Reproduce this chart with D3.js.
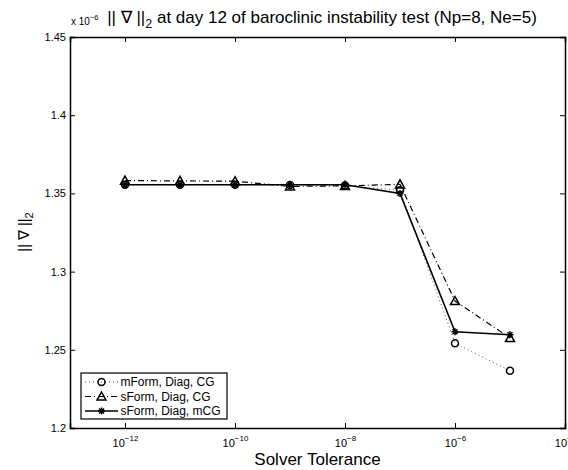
<!DOCTYPE html>
<html>
<head>
<meta charset="utf-8">
<script src="https://cdn.jsdelivr.net/npm/d3@7"></script>
<style>
  body { margin: 0; background: #fff; }
  svg text { font-family: "Liberation Sans", Arial, Helvetica, sans-serif; fill: #000; }
</style>
</head>
<body>
<div id="myplot"></div>
<script>
// --- Data ---
const tolerances = [1e-12, 1e-11, 1e-10, 1e-9, 1e-8, 1e-7, 1e-6, 1e-5];
const mFormDiagCG = [1.3555, 1.3555, 1.3555, 1.3553, 1.3550, 1.3520, 1.2542, 1.2366];
const sFormDiagCG = [1.3582, 1.3580, 1.3578, 1.3545, 1.3548, 1.3558, 1.2812, 1.2576];
const sFormDiagMCG = [1.3555, 1.3555, 1.3555, 1.3555, 1.3555, 1.3500, 1.2615, 1.2596];
const seriesNames = ["mForm, Diag, CG", "sForm, Diag, CG", "sForm, Diag, mCG"];
const xTickExps = [-12, -10, -8, -6, -4];
const yTicks = [1.2, 1.25, 1.3, 1.35, 1.4, 1.45];

const width = 568, height = 470;
const margin = { top: 37, right: 3, bottom: 42, left: 70 };

const svg = d3.select("#myplot").append("svg")
  .attr("width", width).attr("height", height);

const x = d3.scaleLog().domain([1e-13, 1e-4]).range([margin.left, width - margin.right]);
const y = d3.scaleLinear().domain([1.2, 1.45]).range([height - margin.bottom, margin.top]);

const series = [
  { name: seriesNames[0], values: mFormDiagCG, dash: "1,3", width: 1, marker: "circle", color: "#555" },
  { name: seriesNames[1], values: sFormDiagCG, dash: "6,3,1,3", width: 1.2, marker: "triangle", color: "#000" },
  { name: seriesNames[2], values: sFormDiagMCG, dash: null, width: 1.6, marker: "star", color: "#000" },
];

// --- Axes (Matlab-style: inward ticks on all four sides) ---
const xVals = xTickExps.map((e) => Math.pow(10, e));
const fontSize = 11;

const xAxis = svg.append("g")
  .attr("transform", `translate(0,${y(1.2)})`)
  .call(d3.axisBottom(x).tickValues(xVals).tickSize(-5).tickFormat(""));
xAxis.selectAll(".tick").append("text")
  .attr("y", 18.5)
  .attr("text-anchor", "middle")
  .attr("font-size", fontSize)
  .each(function (d) {
    const t = d3.select(this);
    t.append("tspan").text("10");
    t.append("tspan").attr("dy", -6).attr("font-size", 8).text("\u2212" + Math.round(-Math.log10(d)));
  });

svg.append("g")
  .attr("transform", `translate(0,${y(1.45)})`)
  .call(d3.axisTop(x).tickValues(xVals).tickSize(-5).tickFormat(""));

svg.append("g")
  .attr("transform", `translate(${x(1e-13)},0)`)
  .call(d3.axisLeft(y).tickValues(yTicks).tickSize(-5).tickPadding(4).tickFormat(d3.format("")))
  .selectAll("text").attr("font-size", fontSize);

svg.append("g")
  .attr("transform", `translate(${x(1e-4)},0)`)
  .call(d3.axisRight(y).tickValues(yTicks).tickSize(-5).tickFormat(""));

svg.selectAll(".domain").attr("stroke", "#000").attr("stroke-width", 1.5);
svg.selectAll(".tick line").attr("stroke", "#000").attr("stroke-width", 1);

// --- Lines ---
const line = d3.line().x((d) => x(d[0])).y((d) => y(d[1]));

function drawMarker(g, type, cx, cy) {
  if (type === "circle") {
    g.append("circle").attr("cx", cx).attr("cy", cy).attr("r", 3.5)
      .attr("fill", "none").attr("stroke", "#000").attr("stroke-width", 1.5);
  } else if (type === "triangle") {
    const s = 4.5;
    g.append("path")
      .attr("d", `M${cx},${cy - s}L${cx + s},${cy + s * 0.8}L${cx - s},${cy + s * 0.8}Z`)
      .attr("fill", "none").attr("stroke", "#000").attr("stroke-width", 1.5);
  } else {
    const s = 3.5;
    const d = [0, 45, 90, 135].map((a) => {
      const r = (a * Math.PI) / 180;
      return `M${cx - s * Math.cos(r)},${cy - s * Math.sin(r)}L${cx + s * Math.cos(r)},${cy + s * Math.sin(r)}`;
    }).join("");
    g.append("path").attr("d", d).attr("stroke", "#000").attr("stroke-width", 1.5);
    g.append("circle").attr("cx", cx).attr("cy", cy).attr("r", 2).attr("fill", "#000");
  }
}

series.forEach((s) => {
  const pts = tolerances.map((t, i) => [t, s.values[i]]);
  svg.append("path")
    .datum(pts)
    .attr("d", line)
    .attr("fill", "none")
    .attr("stroke", s.color)
    .attr("stroke-width", s.width)
    .attr("stroke-dasharray", s.dash);
  const g = svg.append("g");
  pts.forEach((p) => drawMarker(g, s.marker, x(p[0]), y(p[1])));
});

// --- Legend ---
const legend = svg.append("g");
legend.append("rect")
  .attr("x", 81).attr("y", 373).attr("width", 146).attr("height", 46)
  .attr("fill", "#fff").attr("stroke", "#000").attr("stroke-width", 1.2);
series.forEach((s, i) => {
  const ly = 382 + i * 14.5;
  legend.append("line")
    .attr("x1", 85).attr("x2", 118).attr("y1", ly).attr("y2", ly)
    .attr("stroke", s.color).attr("stroke-width", s.width).attr("stroke-dasharray", s.dash);
  drawMarker(legend, s.marker, 101.5, ly);
  legend.append("text")
    .attr("x", 120.5).attr("y", ly + 4.3)
    .attr("font-size", 12)
    .text(s.name);
});

// --- Labels ---
const title = svg.append("text")
  .attr("x", 322).attr("y", 22.5)
  .attr("text-anchor", "middle").attr("font-size", 17);
title.append("tspan").text("|| \u2207 ||");
title.append("tspan").attr("dy", 5).attr("font-size", 12.5).text("2");
title.append("tspan").attr("dy", -5).text(" at day 12 of baroclinic instability test (Np=8, Ne=5)");

const expo = svg.append("text").attr("x", 71).attr("y", 25).attr("font-size", 10);
expo.append("tspan").text("x 10");
expo.append("tspan").attr("dy", -5).attr("font-size", 7.5).text("\u22126");

svg.append("text")
  .attr("x", (x(1e-13) + x(1e-4)) / 2).attr("y", 465)
  .attr("text-anchor", "middle").attr("font-size", 17)
  .text("Solver Tolerance");

const ylab = svg.append("text")
  .attr("transform", `translate(29,232) rotate(-90)`)
  .attr("text-anchor", "middle").attr("font-size", 14.5);
ylab.append("tspan").text("|| \u2207 ||");
ylab.append("tspan").attr("dy", 4).attr("font-size", 11).text("2");
</script>
</body>
</html>
